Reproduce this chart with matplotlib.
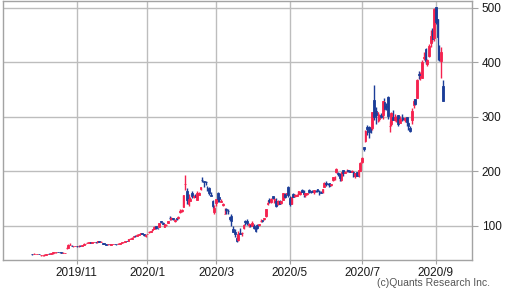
import matplotlib
matplotlib.use("Agg")
import matplotlib.pyplot as plt
import numpy as np
import pandas as pd

plt.rcParams["font.family"] = ["Liberation Sans", "DejaVu Sans"]

# daily candles, 2019/9/26 .. 2020/9/8 (split adjusted), one line per month
opens = [
    48.6, 48.4, 48.2,
    48.3, 48.7, 46.4, 46.3, 46.0, 47.2, 48.3, 49.0, 49.4, 49.6, 51.5, 51.5, 52.5, 52.1, 51.7, 50.9, 50.9, 59.7, 59.5, 65.5, 64.0, 62.6, 62.6,
    63.3, 63.0, 63.9, 63.6, 65.8, 66.9, 68.6, 69.4, 71.0, 69.2, 70.1, 70.6, 70.4, 72.0, 70.9, 68.0, 68.9, 67.1, 66.2, 66.2,
    65.9, 66.5, 67.6, 66.6, 67.0, 67.3, 68.0, 70.4, 71.0, 72.2, 72.5, 75.7, 76.1, 79.5, 82.1, 82.4, 83.7, 85.6, 87.0, 85.8, 81.0,
    84.9, 88.1, 88.1, 92.3, 94.7, 99.4, 96.4, 98.7, 108.9, 106.0, 98.8, 101.5, 106.1, 114.4, 112.9, 114.1, 108.4, 113.7, 115.1, 126.5, 128.0,
    134.7, 176.6, 164.7, 140.0, 146.1, 160.0, 153.8, 155.6, 148.4, 157.4, 168.3, 184.7, 182.4, 181.4, 167.8, 169.8, 156.5, 146.0, 125.9,
    142.3, 161.0, 152.8, 144.8, 138.0, 121.1, 131.9, 128.0, 116.2, 119.0, 93.9, 88.0, 77.8, 74.9, 87.6, 86.7, 95.5, 109.1, 109.5, 101.0, 102.1, 100.3,
    100.8, 96.2, 101.8, 102.2, 109.0, 110.8, 112.4, 118.0, 139.8, 148.4, 143.4, 154.5, 146.5, 146.0, 140.8, 145.5, 142.2, 147.5, 159.1, 158.0, 171.0,
    151.0, 140.2, 158.0, 155.3, 155.4, 158.8, 158.1, 165.4, 164.2, 156.0, 158.1, 165.6, 163.0, 164.1, 163.2, 164.4, 166.9, 164.2, 162.7, 161.8,
    171.6, 178.9, 177.6, 178.0, 175.6, 183.8, 188.0, 198.4, 198.0, 196.0, 183.6, 202.4, 197.5, 200.6, 202.5, 200.0, 199.8, 198.8, 190.9, 199.0, 193.8, 201.3,
    216.6, 244.3, 255.3, 281.0, 281.0, 279.4, 279.2, 331.8, 311.2, 308.6, 295.4, 302.7, 303.8, 328.0, 319.8, 335.8, 283.2, 287.0, 300.8, 295.3, 294.0, 303.0,
    289.8, 299.0, 298.6, 294.4, 299.9, 289.6, 279.2, 294.1, 322.2, 333.0, 335.4, 379.6, 373.0, 372.1, 408.9, 425.3, 398.0, 412.0, 436.0, 459.0, 444.6,
    502.1, 479.0, 407.2, 402.8, 356.0,
]
highs = [
    48.9, 49.7, 48.7,
    49.2, 48.9, 46.9, 47.0, 47.7, 48.7, 49.4, 50.0, 50.1, 51.8, 52.0, 52.4, 53.0, 52.6, 51.8, 51.7, 51.2, 61.0, 66.0, 68.2, 64.9, 63.8, 63.8,
    63.3, 64.4, 64.7, 65.3, 68.3, 67.5, 69.8, 70.0, 71.3, 70.8, 70.6, 70.6, 72.0, 72.2, 72.2, 68.2, 68.9, 67.1, 66.8, 66.3,
    67.3, 67.6, 67.7, 66.9, 67.8, 68.9, 70.0, 71.3, 72.5, 73.0, 76.7, 77.1, 79.0, 81.4, 82.6, 84.4, 85.1, 86.7, 87.1, 85.8, 83.7,
    86.1, 90.8, 90.3, 94.3, 99.7, 99.8, 97.0, 105.1, 109.5, 107.6, 102.9, 103.1, 109.7, 118.9, 116.4, 114.8, 112.9, 115.4, 118.0, 130.2, 130.6,
    157.2, 193.8, 169.2, 159.2, 154.0, 164.0, 156.7, 158.0, 163.6, 162.6, 172.0, 189.0, 182.4, 182.6, 172.7, 171.3, 162.7, 148.0, 138.0,
    148.7, 161.4, 153.3, 149.2, 141.4, 132.6, 133.6, 130.7, 118.9, 121.5, 99.0, 94.4, 81.0, 90.4, 95.4, 88.4, 102.7, 111.4, 112.0, 105.2, 103.3, 108.6,
    102.8, 98.9, 103.1, 104.2, 113.0, 111.4, 115.0, 130.4, 148.4, 150.6, 151.9, 155.0, 153.1, 150.7, 146.8, 146.8, 146.1, 159.9, 161.0, 160.6, 174.0,
    154.6, 152.4, 159.8, 158.0, 159.3, 164.8, 164.8, 168.7, 165.2, 160.7, 161.0, 166.9, 164.4, 165.2, 166.5, 166.4, 166.9, 165.5, 165.0, 167.0,
    179.8, 181.7, 179.6, 179.2, 177.3, 190.0, 190.9, 205.5, 199.0, 197.6, 199.8, 202.6, 201.0, 203.8, 203.2, 201.8, 202.4, 200.2, 197.2, 199.0, 202.0, 217.5,
    227.1, 245.6, 275.6, 285.9, 283.5, 281.7, 309.8, 359.0, 318.0, 310.0, 306.3, 307.5, 330.0, 335.0, 325.3, 337.8, 293.0, 309.6, 312.9, 306.2, 301.8, 303.4,
    302.0, 305.4, 300.0, 300.5, 299.9, 291.6, 284.0, 317.0, 333.7, 333.6, 369.2, 384.8, 382.2, 404.4, 419.1, 425.8, 405.5, 433.2, 459.1, 463.7, 500.1,
    502.5, 479.0, 431.8, 428.0, 368.7,
]
lows = [
    47.3, 47.7, 47.7,
    47.8, 47.9, 44.9, 45.6, 45.7, 47.1, 47.9, 48.7, 49.3, 49.4, 50.8, 50.8, 52.0, 51.0, 50.5, 50.0, 50.3, 57.8, 59.2, 64.5, 62.8, 62.2, 62.3,
    61.4, 61.9, 63.2, 63.0, 65.6, 66.5, 68.4, 69.0, 69.0, 68.6, 69.7, 69.2, 69.6, 69.9, 70.6, 66.0, 66.9, 65.4, 65.7, 65.5,
    65.7, 66.4, 66.6, 65.5, 67.0, 67.0, 67.8, 69.4, 70.7, 71.5, 72.5, 75.2, 76.1, 79.3, 80.0, 82.0, 82.5, 85.3, 85.2, 81.9, 80.5,
    84.3, 87.4, 88.0, 90.7, 93.6, 94.7, 94.7, 98.4, 105.0, 103.4, 98.4, 100.6, 105.7, 111.8, 111.1, 110.9, 107.9, 111.6, 113.5, 123.6, 126.5,
    134.7, 166.8, 140.8, 137.4, 146.0, 150.5, 151.6, 152.7, 147.0, 157.1, 166.5, 180.2, 171.4, 175.4, 164.4, 157.4, 155.2, 133.8, 122.3,
    137.3, 143.2, 143.3, 143.6, 136.9, 121.0, 121.6, 122.6, 109.3, 100.4, 88.4, 79.2, 70.1, 71.7, 85.2, 82.1, 94.8, 102.2, 102.5, 98.8, 98.2, 99.4,
    95.0, 89.3, 93.7, 99.6, 106.5, 106.7, 111.4, 116.1, 138.5, 142.0, 141.3, 149.5, 142.4, 134.8, 137.7, 140.6, 139.6, 147.0, 151.3, 156.6, 152.7,
    136.6, 139.6, 152.4, 152.2, 154.5, 157.4, 157.0, 161.6, 152.7, 152.8, 157.3, 160.8, 161.2, 162.4, 159.2, 162.4, 163.1, 157.0, 160.3, 160.8,
    170.8, 174.2, 176.0, 171.7, 173.2, 181.8, 184.8, 196.5, 191.9, 182.5, 181.7, 192.5, 196.5, 198.9, 198.3, 198.2, 198.8, 190.6, 187.4, 191.0, 189.7, 200.7,
    216.1, 237.1, 253.2, 267.3, 262.3, 270.3, 275.2, 294.2, 286.2, 291.4, 293.2, 298.0, 295.4, 311.6, 312.4, 296.2, 273.3, 282.6, 294.9, 293.2, 290.0, 284.0,
    288.9, 292.4, 293.7, 291.2, 283.0, 276.2, 273.2, 287.0, 317.2, 321.5, 334.6, 369.0, 368.2, 371.4, 405.0, 397.1, 393.6, 409.2, 428.5, 437.3, 440.1,
    470.5, 405.1, 402.0, 372.0, 329.9,
]
closes = [
    48.5, 48.4, 48.2,
    48.9, 48.6, 46.6, 46.3, 47.5, 48.0, 48.9, 48.9, 49.6, 51.4, 51.6, 52.0, 52.4, 51.4, 50.7, 51.1, 50.9, 59.9, 65.6, 65.5, 63.2, 63.0, 63.0,
    62.7, 63.5, 63.4, 65.3, 67.1, 67.4, 69.0, 70.0, 69.2, 69.9, 70.4, 70.0, 71.9, 70.4, 71.0, 66.6, 67.3, 65.8, 66.3, 66.0,
    67.0, 67.2, 66.6, 66.1, 67.2, 67.9, 69.8, 70.5, 71.9, 71.7, 76.3, 75.8, 78.6, 80.8, 81.1, 83.8, 85.1, 86.2, 86.1, 82.9, 83.7,
    86.1, 88.6, 90.3, 93.8, 98.4, 96.3, 95.6, 105.0, 107.6, 103.7, 102.7, 102.1, 109.4, 113.9, 114.4, 113.0, 111.6, 113.4, 116.2, 128.2, 130.1,
    156.0, 177.4, 146.9, 149.8, 149.6, 154.3, 154.9, 153.5, 160.8, 160.0, 171.7, 183.5, 179.9, 180.2, 166.8, 160.0, 155.8, 135.8, 133.6,
    148.7, 149.1, 149.9, 144.9, 140.7, 121.6, 129.1, 126.8, 112.1, 109.3, 89.0, 86.0, 72.2, 85.5, 85.5, 86.9, 101.0, 107.9, 105.6, 102.9, 100.4, 104.8,
    96.3, 90.9, 96.0, 103.2, 109.1, 109.8, 114.6, 130.2, 142.0, 146.0, 149.0, 150.8, 149.3, 137.3, 146.4, 141.1, 145.0, 159.8, 153.8, 160.1, 156.4,
    140.3, 152.2, 153.6, 156.5, 156.0, 163.9, 162.3, 161.9, 158.2, 160.7, 159.8, 162.7, 161.6, 163.1, 165.5, 163.4, 163.8, 164.0, 161.2, 167.0,
    179.6, 176.3, 176.6, 172.9, 177.1, 190.0, 188.1, 205.0, 194.6, 187.1, 198.2, 196.4, 198.4, 200.8, 200.2, 198.9, 200.4, 192.2, 197.2, 192.0, 201.9, 216.0,
    223.9, 241.7, 274.3, 278.0, 273.2, 278.9, 308.9, 299.4, 303.4, 309.2, 300.1, 300.2, 328.6, 313.7, 318.5, 302.6, 283.4, 307.9, 295.3, 299.8, 297.5, 286.2,
    297.0, 297.4, 297.0, 297.9, 290.5, 283.7, 274.9, 311.0, 330.1, 324.2, 367.1, 377.4, 375.7, 400.4, 410.0, 402.8, 404.7, 430.6, 447.8, 442.7, 498.3,
    475.1, 447.4, 407.0, 418.3, 330.2,
]

market_holidays = ["2019-11-28", "2019-12-25", "2020-01-01", "2020-01-20", "2020-02-17",
                   "2020-04-10", "2020-05-25", "2020-07-03", "2020-09-07"]
dates = pd.bdate_range("2019-09-26", "2020-09-08", freq="C", holidays=market_holidays)

tick_labels = ["2019/11", "2020/1", "2020/3", "2020/5", "2020/7", "2020/9"]
y_ticks = [100, 200, 300, 400, 500]

up_color = "#f5224e"
down_color = "#1b3d98"

o = np.array(opens)
h = np.array(highs)
l = np.array(lows)
c = np.array(closes)
x = np.arange(len(dates))
colors = np.where(c >= o, up_color, down_color)

fig = plt.figure(figsize=(5.10, 2.89), dpi=100)
ax = fig.add_axes([3 / 510, 1 - 260 / 289, 469 / 510, 259 / 289])

ax.vlines(x, l, h, colors=colors, linewidth=1.0, zorder=3)
ax.bar(x, np.abs(c - o), bottom=np.minimum(o, c), width=1.0, color=colors,
       edgecolor=colors, linewidth=0.6, zorder=3)

# first trading day of each labelled month
month_keys = [d.strftime("%Y/%-m") for d in dates]
tick_pos = [month_keys.index(lbl) for lbl in tick_labels]
ax.set_xticks(tick_pos)
ax.set_xticklabels(tick_labels)
ax.set_xlim(-17, 256)

ax.set_yticks(y_ticks)
ax.set_ylim(37.5, 512.8)
ax.yaxis.tick_right()

ax.grid(True, color="#bdbdbd", linewidth=1)
ax.set_axisbelow(True)
for s in ax.spines.values():
    s.set_color("#a3a3a3")
    s.set_linewidth(1)
ax.tick_params(axis="both", colors="#a3a3a3", labelcolor="#1a1a1a", labelsize=8.5)
ax.tick_params(axis="y", length=4, pad=3)
ax.tick_params(axis="x", length=3, pad=2)

fig.text(490 / 510, 1 - 283 / 289, "(c)Quants Research Inc.", ha="right", va="center",
         fontsize=7.5, color="#555555")

fig.savefig("out.png", dpi=100)
